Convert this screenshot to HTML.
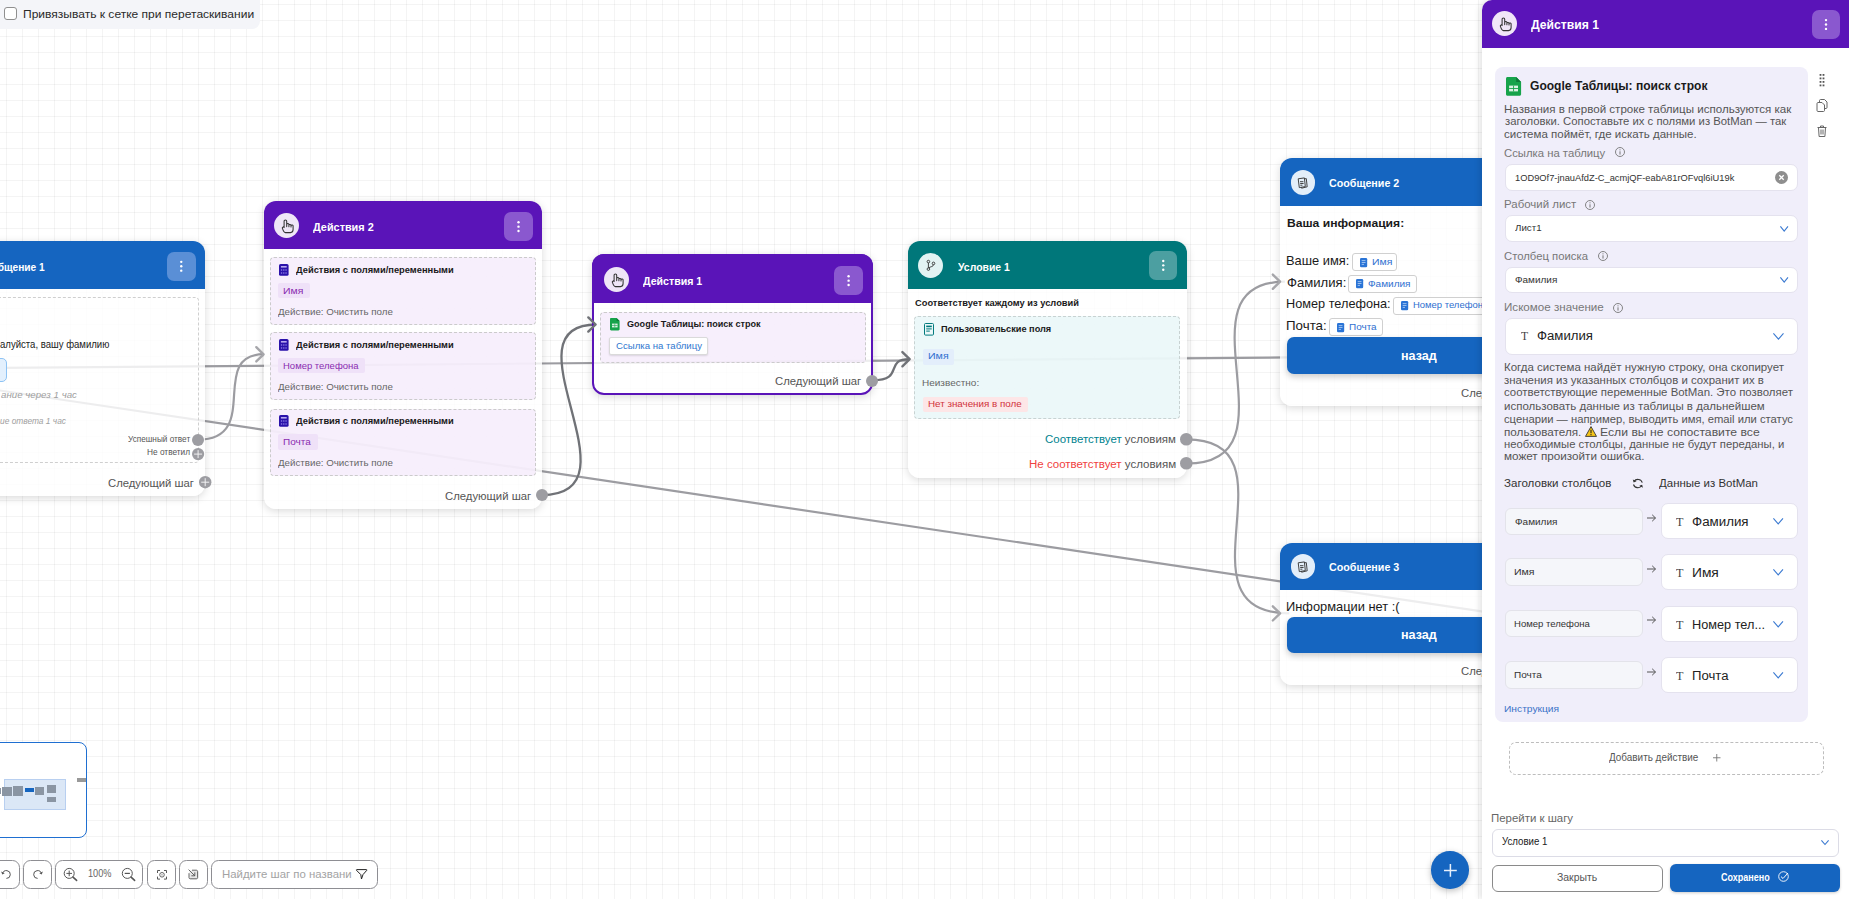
<!DOCTYPE html><html><head><meta charset="utf-8"><style>
html,body{margin:0;padding:0;}
body{width:1849px;height:899px;overflow:hidden;position:relative;font-family:"Liberation Sans", sans-serif;background:#fff;}
.grid{position:absolute;left:0;top:0;width:1849px;height:899px;
background-image:linear-gradient(to right,rgba(0,0,0,0.045) 1px,transparent 1px),linear-gradient(to bottom,rgba(0,0,0,0.045) 1px,transparent 1px);
background-size:16px 16px;background-position:6px 4px;}
.t{position:absolute;white-space:nowrap;line-height:1;}
</style></head><body><div class="grid"></div>
<div style="position:absolute;left:0.00px;top:0.00px;width:259.70px;height:28.50px;box-sizing:border-box;background:#f4f5f9;border-bottom-right-radius:8px;"></div>
<div style="position:absolute;left:4.20px;top:7.10px;width:12.50px;height:12.50px;box-sizing:border-box;border:1.3px solid #8f8f8f;border-radius:3px;background:#fff;"></div>
<div class="t" style="left:22.67px;top:9.00px;font-size:11.3px;color:#2a2a2a;font-weight:normal;transform:scaleX(1.0645);transform-origin:0 0;">Привязывать к сетке при перетаскивании</div>
<svg style="position:absolute;left:0;top:0" width="1849" height="899"><path d="M-100,375.6 L1490,612.6" stroke="#9c9ca1" stroke-width="2.2" fill="none"/><path d="M-100,368.7 L1290,357.4" stroke="#9c9ca1" stroke-width="2.2" fill="none"/><path d="M197.9,439.7 C262.8,439.7 207.1,354.2 264,354.2" stroke="#9c9ca1" stroke-width="2.2" fill="none"/><path d="M541.9,495.1 C644.1999999999999,495.1 500.2,324.5 596.5,324.5" stroke="#707277" stroke-width="2.3" fill="none"/><path d="M872.7,380.3 C905.3000000000001,380.3 883.3000000000001,359.1 909.7,359.1" stroke="#707277" stroke-width="2.3" fill="none"/><path d="M1186.7,439.4 C1301.3,439.4 1170.8,613.4 1289.3,613.4" stroke="#9c9ca1" stroke-width="2.2" fill="none"/><path d="M1186.7,463.5 C1302.9,463.5 1171.5,281.7 1284.9,281.7" stroke="#9c9ca1" stroke-width="2.2" fill="none"/></svg>
<div style="position:absolute;left:-73.00px;top:241.40px;width:278.00px;height:254.30px;box-sizing:border-box;border-radius:12px;background:rgba(255,255,255,0.82);box-shadow:0 2px 8px rgba(0,0,0,0.15);"></div>
<div style="position:absolute;left:-73.00px;top:241.40px;width:278.00px;height:48.10px;box-sizing:border-box;border-radius:12px 12px 0 0;background:#1565c0;"></div>
<div class="t" style="left:-21.76px;top:261.80px;font-size:11px;color:#fff;font-weight:bold;transform:scaleX(0.9231);transform-origin:0 0;">Сообщение 1</div>
<div style="position:absolute;left:167.00px;top:252.00px;width:28.50px;height:28.50px;box-sizing:border-box;border-radius:7px;background:#5a8fd6;"></div>
<svg style="position:absolute;left:167.00px;top:252.00px;overflow:visible;" width="28.50" height="28.50" viewBox="0 0 28.50 28.50"><circle cx="14.25" cy="9.85" r="1.2" fill="#fff"/><circle cx="14.25" cy="14.25" r="1.2" fill="#fff"/><circle cx="14.25" cy="18.65" r="1.2" fill="#fff"/></svg>
<div style="position:absolute;left:-66.00px;top:297.30px;width:264.50px;height:165.50px;box-sizing:border-box;border:1px dashed #cfcfcf;border-radius:4px;"></div>
<div class="t" style="left:-0.16px;top:339.80px;font-size:10px;color:#222;font-weight:normal;transform:scaleX(0.9568);transform-origin:0 0;">алуйста, вашу фамилию</div>
<div style="position:absolute;left:-60.00px;top:357.80px;width:66.80px;height:24.60px;box-sizing:border-box;background:#e3f0fd;border:1px solid #8ec3f4;border-radius:5px;"></div>
<div class="t" style="left:0.75px;top:389.80px;font-size:9.6px;color:#a0a0a0;font-weight:normal;font-style:italic;transform:scaleX(1.0114);transform-origin:0 0;">ание через 1 час</div>
<div class="t" style="left:-0.13px;top:415.70px;font-size:9.6px;color:#a0a0a0;font-weight:normal;font-style:italic;transform:scaleX(0.8718);transform-origin:0 0;">ие ответа 1 час</div>
<div class="t" style="left:127.55px;top:435.80px;font-size:8.2px;color:#555;font-weight:normal;transform:scaleX(1.0028);transform-origin:0 0;">Успешный ответ</div>
<div class="t" style="left:147.07px;top:448.80px;font-size:8.2px;color:#555;font-weight:normal;transform:scaleX(1.0127);transform-origin:0 0;">Не ответил</div>
<svg style="position:absolute;left:191.90px;top:433.70px;overflow:visible;" width="12.00" height="12.00" viewBox="0 0 12.00 12.00"><circle cx="6" cy="6" r="6" fill="#9d9da2"/></svg>
<svg style="position:absolute;left:191.60px;top:448.10px;overflow:visible;" width="12.20" height="12.20" viewBox="0 0 12.20 12.20"><circle cx="6.1" cy="6.1" r="6.1" fill="#9d9da2"/><path d="M2.0999999999999996,6.1H10.1M6.1,2.0999999999999996V10.1" stroke="#f4f4f6" stroke-width="0.95"/></svg>
<div class="t" style="left:108.07px;top:477.90px;font-size:10.6px;color:#555;font-weight:normal;transform:scaleX(1.0654);transform-origin:0 0;">Следующий шаг</div>
<svg style="position:absolute;left:199.30px;top:475.70px;overflow:visible;" width="12.40" height="12.40" viewBox="0 0 12.40 12.40"><circle cx="6.2" cy="6.2" r="6.2" fill="#9d9da2"/><path d="M2.2,6.2H10.2M6.2,2.2V10.2" stroke="#f4f4f6" stroke-width="0.95"/></svg>
<div style="position:absolute;left:263.50px;top:201.20px;width:278.30px;height:307.40px;box-sizing:border-box;border-radius:12px;background:rgba(255,255,255,0.82);box-shadow:0 2px 8px rgba(0,0,0,0.15);"></div>
<div style="position:absolute;left:263.50px;top:201.20px;width:278.30px;height:47.60px;box-sizing:border-box;border-radius:12px 12px 0 0;background:#5a14b8;"></div>
<div style="position:absolute;left:273.60px;top:213.00px;width:25.00px;height:25.00px;box-sizing:border-box;border-radius:50%;background:#efe6f7;"></div>
<svg style="position:absolute;left:281.50px;top:220.10px;overflow:visible;" width="12.00" height="13.00" viewBox="0 0 12.00 13.00"><path d="M2.1,7.2 V1.3 A1.3,1.3 0 0 1 4.7,1.3 V6.6 M4.7,4.4 A1.1,1.1 0 0 1 6.9,4.9 V6.8 M6.9,5.1 A1.1,1.1 0 0 1 9,5.5 V7 M9,5.8 A1.05,1.05 0 0 1 11.1,6.3 V9.6 C11.1,11.5 10,12.6 8.5,12.6 H3.4 C2.5,12.6 2,12.1 1.5,11.1 L0.4,8.4 C0.1,7.7 0.5,7 1.1,6.9 C1.6,6.8 2,7.1 2.1,7.6" fill="none" stroke="#333" stroke-width="1.05" stroke-linecap="round" stroke-linejoin="round"/></svg>
<div class="t" style="left:312.68px;top:222.00px;font-size:11px;color:#fff;font-weight:bold;transform:scaleX(0.9873);transform-origin:0 0;">Действия 2</div>
<div style="position:absolute;left:503.60px;top:211.50px;width:29.00px;height:29.30px;box-sizing:border-box;border-radius:7px;background:#8a58cf;"></div>
<svg style="position:absolute;left:503.60px;top:211.50px;overflow:visible;" width="29.00" height="29.30" viewBox="0 0 29.00 29.30"><circle cx="14.50" cy="10.25" r="1.2" fill="#fff"/><circle cx="14.50" cy="14.65" r="1.2" fill="#fff"/><circle cx="14.50" cy="19.05" r="1.2" fill="#fff"/></svg>
<div style="position:absolute;left:270.00px;top:257.40px;width:265.80px;height:67.80px;box-sizing:border-box;background:rgba(243,232,251,0.7);border:1px dashed #cbcbcb;border-radius:4px;"></div>
<svg style="position:absolute;left:279.30px;top:264.10px;overflow:visible;" width="9.60" height="11.80" viewBox="0 0 9.60 11.80"><rect x="0" y="0" width="9.6" height="11.8" rx="1.6" fill="#2a12aa"/><rect x="1.9" y="2" width="5.8" height="1.6" fill="#b7a8ef"/><g fill="#7f6fdc"><rect x="1.9" y="5.2" width="1.3" height="1.6"/><rect x="1.9" y="8.2" width="1.3" height="1.6"/><rect x="4.15" y="5.2" width="1.3" height="1.6"/><rect x="4.15" y="8.2" width="1.3" height="1.6"/><rect x="6.4" y="5.2" width="1.3" height="1.6"/><rect x="6.4" y="8.2" width="1.3" height="1.6"/></g></svg>
<div class="t" style="left:296.47px;top:265.70px;font-size:9px;color:#1a1a1a;font-weight:bold;transform:scaleX(1.0348);transform-origin:0 0;">Действия с полями/переменными</div>
<div style="position:absolute;left:278.00px;top:282.70px;width:31.50px;height:15.50px;box-sizing:border-box;background:#efe1f8;border-radius:2px;"></div>
<div class="t" style="left:283.36px;top:286.70px;font-size:9.3px;color:#8a2bb0;font-weight:normal;transform:scaleX(1.1224);transform-origin:0 0;">Имя</div>
<div class="t" style="left:277.58px;top:307.00px;font-size:9.8px;color:#666;font-weight:normal;transform:scaleX(0.9939);transform-origin:0 0;">Действие: Очистить поле</div>
<div style="position:absolute;left:270.00px;top:332.40px;width:265.80px;height:67.80px;box-sizing:border-box;background:rgba(243,232,251,0.7);border:1px dashed #cbcbcb;border-radius:4px;"></div>
<svg style="position:absolute;left:279.30px;top:339.10px;overflow:visible;" width="9.60" height="11.80" viewBox="0 0 9.60 11.80"><rect x="0" y="0" width="9.6" height="11.8" rx="1.6" fill="#2a12aa"/><rect x="1.9" y="2" width="5.8" height="1.6" fill="#b7a8ef"/><g fill="#7f6fdc"><rect x="1.9" y="5.2" width="1.3" height="1.6"/><rect x="1.9" y="8.2" width="1.3" height="1.6"/><rect x="4.15" y="5.2" width="1.3" height="1.6"/><rect x="4.15" y="8.2" width="1.3" height="1.6"/><rect x="6.4" y="5.2" width="1.3" height="1.6"/><rect x="6.4" y="8.2" width="1.3" height="1.6"/></g></svg>
<div class="t" style="left:296.47px;top:340.70px;font-size:9px;color:#1a1a1a;font-weight:bold;transform:scaleX(1.0348);transform-origin:0 0;">Действия с полями/переменными</div>
<div style="position:absolute;left:278.00px;top:357.70px;width:87.20px;height:15.50px;box-sizing:border-box;background:#efe1f8;border-radius:2px;"></div>
<div class="t" style="left:283.43px;top:361.70px;font-size:9.3px;color:#8a2bb0;font-weight:normal;transform:scaleX(1.0212);transform-origin:0 0;">Номер телефона</div>
<div class="t" style="left:277.58px;top:382.00px;font-size:9.8px;color:#666;font-weight:normal;transform:scaleX(0.9939);transform-origin:0 0;">Действие: Очистить поле</div>
<div style="position:absolute;left:270.00px;top:408.70px;width:265.80px;height:67.80px;box-sizing:border-box;background:rgba(243,232,251,0.7);border:1px dashed #cbcbcb;border-radius:4px;"></div>
<svg style="position:absolute;left:279.30px;top:415.40px;overflow:visible;" width="9.60" height="11.80" viewBox="0 0 9.60 11.80"><rect x="0" y="0" width="9.6" height="11.8" rx="1.6" fill="#2a12aa"/><rect x="1.9" y="2" width="5.8" height="1.6" fill="#b7a8ef"/><g fill="#7f6fdc"><rect x="1.9" y="5.2" width="1.3" height="1.6"/><rect x="1.9" y="8.2" width="1.3" height="1.6"/><rect x="4.15" y="5.2" width="1.3" height="1.6"/><rect x="4.15" y="8.2" width="1.3" height="1.6"/><rect x="6.4" y="5.2" width="1.3" height="1.6"/><rect x="6.4" y="8.2" width="1.3" height="1.6"/></g></svg>
<div class="t" style="left:296.47px;top:417.00px;font-size:9px;color:#1a1a1a;font-weight:bold;transform:scaleX(1.0348);transform-origin:0 0;">Действия с полями/переменными</div>
<div style="position:absolute;left:278.00px;top:434.00px;width:39.80px;height:15.50px;box-sizing:border-box;background:#efe1f8;border-radius:2px;"></div>
<div class="t" style="left:283.39px;top:438.00px;font-size:9.3px;color:#8a2bb0;font-weight:normal;transform:scaleX(1.0746);transform-origin:0 0;">Почта</div>
<div class="t" style="left:277.58px;top:458.30px;font-size:9.8px;color:#666;font-weight:normal;transform:scaleX(0.9939);transform-origin:0 0;">Действие: Очистить поле</div>
<div class="t" style="left:444.87px;top:490.90px;font-size:10.6px;color:#555;font-weight:normal;transform:scaleX(1.0679);transform-origin:0 0;">Следующий шаг</div>
<svg style="position:absolute;left:535.90px;top:489.10px;overflow:visible;" width="12.00" height="12.00" viewBox="0 0 12.00 12.00"><circle cx="6" cy="6" r="6" fill="#9d9da2"/></svg>
<div style="position:absolute;left:592.30px;top:254.00px;width:280.90px;height:140.70px;box-sizing:border-box;border-radius:12px;background:rgba(255,255,255,0.82);box-shadow:0 2px 8px rgba(0,0,0,0.15);border:2px solid #5a14b8;"></div>
<div style="position:absolute;left:592.30px;top:254.00px;width:280.90px;height:49.40px;box-sizing:border-box;border-radius:12px 12px 0 0;background:#5a14b8;"></div>
<div style="position:absolute;left:603.90px;top:267.20px;width:25.00px;height:25.00px;box-sizing:border-box;border-radius:50%;background:#efe6f7;"></div>
<svg style="position:absolute;left:611.80px;top:274.30px;overflow:visible;" width="12.00" height="13.00" viewBox="0 0 12.00 13.00"><path d="M2.1,7.2 V1.3 A1.3,1.3 0 0 1 4.7,1.3 V6.6 M4.7,4.4 A1.1,1.1 0 0 1 6.9,4.9 V6.8 M6.9,5.1 A1.1,1.1 0 0 1 9,5.5 V7 M9,5.8 A1.05,1.05 0 0 1 11.1,6.3 V9.6 C11.1,11.5 10,12.6 8.5,12.6 H3.4 C2.5,12.6 2,12.1 1.5,11.1 L0.4,8.4 C0.1,7.7 0.5,7 1.1,6.9 C1.6,6.8 2,7.1 2.1,7.6" fill="none" stroke="#333" stroke-width="1.05" stroke-linecap="round" stroke-linejoin="round"/></svg>
<div class="t" style="left:643.18px;top:276.10px;font-size:11px;color:#fff;font-weight:bold;transform:scaleX(0.9639);transform-origin:0 0;">Действия 1</div>
<div style="position:absolute;left:833.90px;top:265.70px;width:29.20px;height:29.30px;box-sizing:border-box;border-radius:7px;background:#8a58cf;"></div>
<svg style="position:absolute;left:833.90px;top:265.70px;overflow:visible;" width="29.20" height="29.30" viewBox="0 0 29.20 29.30"><circle cx="14.60" cy="10.25" r="1.2" fill="#fff"/><circle cx="14.60" cy="14.65" r="1.2" fill="#fff"/><circle cx="14.60" cy="19.05" r="1.2" fill="#fff"/></svg>
<div style="position:absolute;left:600.40px;top:311.50px;width:265.60px;height:51.00px;box-sizing:border-box;background:rgba(243,232,251,0.7);border:1px dashed #cbcbcb;border-radius:4px;"></div>
<svg style="position:absolute;left:609.70px;top:318.30px;overflow:visible;" width="9.60" height="12.40" viewBox="0 0 9.60 12.40"><path d="M0 1.2C0 .5.5 0 1.2 0H6.6L9.6 3V11.2c0 .7-.5 1.2-1.2 1.2H1.2C.5 12.4 0 11.9 0 11.2Z" fill="#16a34a"/><path d="M6.6 0V3H9.6Z" fill="#0d7a38"/><rect x="2" y="5.6" width="5.6" height="3.8" fill="#fff" opacity="0.85"/><path d="M2 7.5H7.6M4.8 5.6V9.4" stroke="#16a34a" stroke-width="0.6"/></svg>
<div class="t" style="left:627.12px;top:319.70px;font-size:9px;color:#1a1a1a;font-weight:bold;transform:scaleX(1.0081);transform-origin:0 0;">Google Таблицы: поиск строк</div>
<div style="position:absolute;left:608.60px;top:337.40px;width:99.50px;height:17.20px;box-sizing:border-box;background:#fff;border:1px solid #dadada;border-radius:2px;box-shadow:0 1px 2px rgba(0,0,0,0.12);"></div>
<div class="t" style="left:615.59px;top:341.00px;font-size:9.4px;color:#2f77d0;font-weight:normal;transform:scaleX(1.0248);transform-origin:0 0;">Ссылка на таблицу</div>
<div class="t" style="left:775.17px;top:375.50px;font-size:10.6px;color:#555;font-weight:normal;transform:scaleX(1.0679);transform-origin:0 0;">Следующий шаг</div>
<svg style="position:absolute;left:866.40px;top:374.70px;overflow:visible;" width="12.00" height="12.00" viewBox="0 0 12.00 12.00"><circle cx="6" cy="6" r="6" fill="#9d9da2"/></svg>
<div style="position:absolute;left:908.30px;top:241.40px;width:279.00px;height:236.30px;box-sizing:border-box;border-radius:12px;background:rgba(255,255,255,0.82);box-shadow:0 2px 8px rgba(0,0,0,0.15);"></div>
<div style="position:absolute;left:908.30px;top:241.40px;width:279.00px;height:48.10px;box-sizing:border-box;border-radius:12px 12px 0 0;background:#00777a;"></div>
<div style="position:absolute;left:918.40px;top:252.70px;width:25.00px;height:25.00px;box-sizing:border-box;border-radius:50%;background:#e2f3f3;"></div>
<svg style="position:absolute;left:923.90px;top:258.20px;overflow:visible;" width="14.00" height="14.00" viewBox="0 0 14.00 14.00"><g fill="none" stroke="#333" stroke-width="0.9"><circle cx="4.4" cy="3.6" r="1.3"/><circle cx="4.4" cy="11.1" r="1.3"/><circle cx="9.5" cy="5.4" r="1.3"/><path d="M4.4 4.9V9.8M9.5 6.7C9.5 8.6 6.5 8.6 4.6 9.9"/></g></svg>
<div class="t" style="left:957.70px;top:261.60px;font-size:11px;color:#fff;font-weight:bold;transform:scaleX(0.9490);transform-origin:0 0;">Условие 1</div>
<div style="position:absolute;left:1148.50px;top:251.30px;width:28.50px;height:28.70px;box-sizing:border-box;border-radius:7px;background:#4c9fa1;"></div>
<svg style="position:absolute;left:1148.50px;top:251.30px;overflow:visible;" width="28.50" height="28.70" viewBox="0 0 28.50 28.70"><circle cx="14.25" cy="9.95" r="1.2" fill="#fff"/><circle cx="14.25" cy="14.35" r="1.2" fill="#fff"/><circle cx="14.25" cy="18.75" r="1.2" fill="#fff"/></svg>
<div class="t" style="left:915.01px;top:298.60px;font-size:9px;color:#1a1a1a;font-weight:bold;transform:scaleX(1.0333);transform-origin:0 0;">Соответствует каждому из условий</div>
<div style="position:absolute;left:914.30px;top:316.00px;width:265.60px;height:103.00px;box-sizing:border-box;background:rgba(228,245,247,0.7);border:1px dashed #c8d2d2;border-radius:4px;"></div>
<svg style="position:absolute;left:923.90px;top:323.00px;overflow:visible;" width="10.00" height="12.60" viewBox="0 0 10.00 12.60"><rect x="0.5" y="0.5" width="9" height="11.6" rx="1" fill="none" stroke="#00797c" stroke-width="1"/><rect x="2.2" y="2.6" width="5.6" height="1.6" fill="#00797c"/><rect x="2.2" y="5.4" width="5.6" height="1" fill="#00797c"/><rect x="2.2" y="7.6" width="3.6" height="1" fill="#00797c"/></svg>
<div class="t" style="left:940.96px;top:324.90px;font-size:9px;color:#1a1a1a;font-weight:bold;transform:scaleX(1.0201);transform-origin:0 0;">Пользовательские поля</div>
<div style="position:absolute;left:922.60px;top:348.50px;width:31.50px;height:16.00px;box-sizing:border-box;background:#e3eefb;border-radius:2px;"></div>
<div class="t" style="left:927.94px;top:351.90px;font-size:9.3px;color:#2f6fd0;font-weight:normal;transform:scaleX(1.1403);transform-origin:0 0;">Имя</div>
<div class="t" style="left:921.99px;top:378.80px;font-size:9.3px;color:#666;font-weight:normal;transform:scaleX(1.0757);transform-origin:0 0;">Неизвестно:</div>
<div style="position:absolute;left:922.60px;top:397.00px;width:105.60px;height:15.00px;box-sizing:border-box;background:#fde6e7;border-radius:2px;"></div>
<div class="t" style="left:928.01px;top:399.70px;font-size:9.3px;color:#d0323a;font-weight:normal;transform:scaleX(1.0541);transform-origin:0 0;">Нет значения в поле</div>
<div class="t" style="left:1044.93px;top:434.80px;font-size:10px;color:#555;font-weight:normal;transform:scaleX(1.1448);transform-origin:0 0;"><span style="color:#00838f">Соответствует</span> условиям</div>
<div class="t" style="left:1028.69px;top:459.60px;font-size:10px;color:#555;font-weight:normal;transform:scaleX(1.1509);transform-origin:0 0;"><span style="color:#f04141">Не соответствует</span> условиям</div>
<svg style="position:absolute;left:1180.40px;top:433.10px;overflow:visible;" width="12.60" height="12.60" viewBox="0 0 12.60 12.60"><circle cx="6.3" cy="6.3" r="6.3" fill="#9d9da2"/></svg>
<svg style="position:absolute;left:1180.40px;top:457.20px;overflow:visible;" width="12.60" height="12.60" viewBox="0 0 12.60 12.60"><circle cx="6.3" cy="6.3" r="6.3" fill="#9d9da2"/></svg>
<div style="position:absolute;left:1280.30px;top:158.30px;width:279.00px;height:248.10px;box-sizing:border-box;border-radius:12px;background:rgba(255,255,255,0.82);box-shadow:0 2px 8px rgba(0,0,0,0.15);"></div>
<div style="position:absolute;left:1280.30px;top:158.30px;width:279.00px;height:47.70px;box-sizing:border-box;border-radius:12px 12px 0 0;background:#1565c0;"></div>
<div style="position:absolute;left:1290.75px;top:170.35px;width:24.50px;height:24.50px;box-sizing:border-box;border-radius:50%;background:#e3eef9;"></div>
<svg style="position:absolute;left:1297.00px;top:176.60px;overflow:visible;" width="12.00" height="12.00" viewBox="0 0 12.00 12.00"><g fill="none" stroke="#3a3a3a" stroke-width="0.95" stroke-linejoin="round"><path d="M3.2 2.4L9.3 1.6L10.2 9.8L4.6 11.2Z" /><path d="M1.2 1.8L7.4 0.9L8.3 9.6L2.3 10.6Z" fill="#e4f0fb"/><path d="M3 4.7H6.4M3.2 6.5H6.6M3.3 8.2H5.4"/></g></svg>
<div class="t" style="left:1329.31px;top:177.70px;font-size:11px;color:#fff;font-weight:bold;transform:scaleX(0.9723);transform-origin:0 0;">Сообщение 2</div>
<div class="t" style="left:1286.62px;top:216.70px;font-size:11.7px;color:#1a1a1a;font-weight:bold;transform:scaleX(1.0376);transform-origin:0 0;">Ваша информация:</div>
<div class="t" style="left:1286.45px;top:255.00px;font-size:12.2px;color:#1a1a1a;font-weight:normal;transform:scaleX(1.0534);transform-origin:0 0;">Ваше имя:</div>
<div style="position:absolute;left:1352.40px;top:253.30px;width:45.10px;height:18.20px;box-sizing:border-box;background:#fff;border:1px solid #d0d0d0;border-radius:3px;"></div>
<svg style="position:absolute;left:1359.80px;top:257.80px;overflow:visible;" width="7.20" height="9.20" viewBox="0 0 7.20 9.20"><rect x="0" y="0" width="7.2" height="9.2" rx="1.3" fill="#2a74d6"/><path d="M1.7 2.6H5.5M1.7 4.5H5.5M1.7 6.4H4" stroke="#b9d3f5" stroke-width="0.8"/></svg>
<div class="t" style="left:1371.73px;top:258.00px;font-size:9px;color:#2f6fd0;font-weight:normal;transform:scaleX(1.1597);transform-origin:0 0;">Имя</div>
<div class="t" style="left:1286.69px;top:276.80px;font-size:12.2px;color:#1a1a1a;font-weight:normal;transform:scaleX(1.0754);transform-origin:0 0;">Фамилия:</div>
<div style="position:absolute;left:1348.40px;top:275.30px;width:68.30px;height:17.30px;box-sizing:border-box;background:#fff;border:1px solid #d0d0d0;border-radius:3px;"></div>
<svg style="position:absolute;left:1355.70px;top:279.35px;overflow:visible;" width="7.20" height="9.20" viewBox="0 0 7.20 9.20"><rect x="0" y="0" width="7.2" height="9.2" rx="1.3" fill="#2a74d6"/><path d="M1.7 2.6H5.5M1.7 4.5H5.5M1.7 6.4H4" stroke="#b9d3f5" stroke-width="0.8"/></svg>
<div class="t" style="left:1368.34px;top:279.80px;font-size:9px;color:#2f6fd0;font-weight:normal;transform:scaleX(1.1125);transform-origin:0 0;">Фамилия</div>
<div class="t" style="left:1286.46px;top:297.90px;font-size:12.2px;color:#1a1a1a;font-weight:normal;transform:scaleX(1.0433);transform-origin:0 0;">Номер телефона:</div>
<div style="position:absolute;left:1393.40px;top:296.60px;width:100.00px;height:18.00px;box-sizing:border-box;background:#fff;border:1px solid #d0d0d0;border-radius:3px;"></div>
<svg style="position:absolute;left:1401.20px;top:301.00px;overflow:visible;" width="7.20" height="9.20" viewBox="0 0 7.20 9.20"><rect x="0" y="0" width="7.2" height="9.2" rx="1.3" fill="#2a74d6"/><path d="M1.7 2.6H5.5M1.7 4.5H5.5M1.7 6.4H4" stroke="#b9d3f5" stroke-width="0.8"/></svg>
<div class="t" style="left:1413.11px;top:300.90px;font-size:9px;color:#2f6fd0;font-weight:normal;transform:scaleX(1.0497);transform-origin:0 0;">Номер телефона</div>
<div class="t" style="left:1286.41px;top:319.80px;font-size:12.2px;color:#1a1a1a;font-weight:normal;transform:scaleX(1.0932);transform-origin:0 0;">Почта:</div>
<div style="position:absolute;left:1329.40px;top:318.40px;width:54.00px;height:17.70px;box-sizing:border-box;background:#fff;border:1px solid #d0d0d0;border-radius:3px;"></div>
<svg style="position:absolute;left:1336.80px;top:322.65px;overflow:visible;" width="7.20" height="9.20" viewBox="0 0 7.20 9.20"><rect x="0" y="0" width="7.2" height="9.2" rx="1.3" fill="#2a74d6"/><path d="M1.7 2.6H5.5M1.7 4.5H5.5M1.7 6.4H4" stroke="#b9d3f5" stroke-width="0.8"/></svg>
<div class="t" style="left:1348.97px;top:322.80px;font-size:9px;color:#2f6fd0;font-weight:normal;transform:scaleX(1.1052);transform-origin:0 0;">Почта</div>
<div style="position:absolute;left:1286.60px;top:337.20px;width:266.60px;height:37.00px;box-sizing:border-box;background:#1565c0;border-radius:7px;box-shadow:0 3px 6px rgba(0,0,0,0.2);"></div>
<div class="t" style="left:1401.42px;top:349.00px;font-size:13.5px;color:#fff;font-weight:bold;transform:scaleX(0.9315);transform-origin:0 0;">назад</div>
<div class="t" style="left:1461.47px;top:387.90px;font-size:10.6px;color:#555;font-weight:normal;transform:scaleX(1.0679);transform-origin:0 0;">Следующий шаг</div>
<div style="position:absolute;left:1280.30px;top:542.50px;width:279.00px;height:142.30px;box-sizing:border-box;border-radius:12px;background:rgba(255,255,255,0.82);box-shadow:0 2px 8px rgba(0,0,0,0.15);"></div>
<div style="position:absolute;left:1280.30px;top:542.50px;width:279.00px;height:47.40px;box-sizing:border-box;border-radius:12px 12px 0 0;background:#1565c0;"></div>
<div style="position:absolute;left:1290.75px;top:554.35px;width:24.50px;height:24.50px;box-sizing:border-box;border-radius:50%;background:#e3eef9;"></div>
<svg style="position:absolute;left:1297.00px;top:560.60px;overflow:visible;" width="12.00" height="12.00" viewBox="0 0 12.00 12.00"><g fill="none" stroke="#3a3a3a" stroke-width="0.95" stroke-linejoin="round"><path d="M3.2 2.4L9.3 1.6L10.2 9.8L4.6 11.2Z" /><path d="M1.2 1.8L7.4 0.9L8.3 9.6L2.3 10.6Z" fill="#e4f0fb"/><path d="M3 4.7H6.4M3.2 6.5H6.6M3.3 8.2H5.4"/></g></svg>
<div class="t" style="left:1329.11px;top:561.80px;font-size:11px;color:#fff;font-weight:bold;transform:scaleX(0.9723);transform-origin:0 0;">Сообщение 3</div>
<div class="t" style="left:1286.15px;top:600.70px;font-size:12.2px;color:#1a1a1a;font-weight:normal;transform:scaleX(1.0539);transform-origin:0 0;">Информации нет :(</div>
<div style="position:absolute;left:1286.60px;top:616.60px;width:266.60px;height:36.40px;box-sizing:border-box;background:#1565c0;border-radius:7px;box-shadow:0 3px 6px rgba(0,0,0,0.2);"></div>
<div class="t" style="left:1401.42px;top:627.70px;font-size:13.5px;color:#fff;font-weight:bold;transform:scaleX(0.9315);transform-origin:0 0;">назад</div>
<div class="t" style="left:1461.47px;top:665.60px;font-size:10.6px;color:#555;font-weight:normal;transform:scaleX(1.0679);transform-origin:0 0;">Следующий шаг</div>
<svg style="position:absolute;left:0;top:0" width="1849" height="899"><path d="M256.3,347.2 L263.6,354.3 L256.3,361.40000000000003" stroke="#a6a6aa" stroke-width="2.4" fill="none" stroke-linecap="round" stroke-linejoin="round"/><path d="M588.3000000000001,317.4 L595.6,324.5 L588.3000000000001,331.6" stroke="#707277" stroke-width="2.4" fill="none" stroke-linecap="round" stroke-linejoin="round"/><path d="M902.4000000000001,352.09999999999997 L909.7,359.2 L902.4000000000001,366.3" stroke="#707277" stroke-width="2.4" fill="none" stroke-linecap="round" stroke-linejoin="round"/><path d="M1272.8,606.3 L1280.1,613.4 L1272.8,620.5" stroke="#a6a6aa" stroke-width="2.4" fill="none" stroke-linecap="round" stroke-linejoin="round"/><path d="M1272.8,274.59999999999997 L1280.1,281.7 L1272.8,288.8" stroke="#a6a6aa" stroke-width="2.4" fill="none" stroke-linecap="round" stroke-linejoin="round"/></svg>
<div style="position:absolute;left:-10.00px;top:742.20px;width:96.70px;height:95.50px;box-sizing:border-box;background:#fff;border:1.6px solid #1f6fd1;border-radius:8px;"></div>
<div style="position:absolute;left:3.70px;top:779.00px;width:62.70px;height:30.70px;box-sizing:border-box;background:#dbe7f6;border:1px solid #b8cff0;"></div>
<div style="position:absolute;left:0.00px;top:787.80px;width:1.10px;height:6.20px;box-sizing:border-box;background:#8a95a3;"></div>
<div style="position:absolute;left:2.00px;top:787.30px;width:9.50px;height:8.30px;box-sizing:border-box;background:#8a95a3;"></div>
<div style="position:absolute;left:13.30px;top:786.00px;width:9.50px;height:10.00px;box-sizing:border-box;background:#8a95a3;"></div>
<div style="position:absolute;left:24.50px;top:787.80px;width:9.10px;height:4.50px;box-sizing:border-box;background:#1565c0;"></div>
<div style="position:absolute;left:35.00px;top:787.30px;width:9.00px;height:7.50px;box-sizing:border-box;background:#8a95a3;"></div>
<div style="position:absolute;left:47.30px;top:784.50px;width:8.90px;height:8.10px;box-sizing:border-box;background:#8a95a3;"></div>
<div style="position:absolute;left:47.30px;top:797.00px;width:8.90px;height:4.80px;box-sizing:border-box;background:#8a95a3;"></div>
<div style="position:absolute;left:76.80px;top:778.00px;width:9.10px;height:4.30px;box-sizing:border-box;background:#999;"></div>
<div style="position:absolute;left:-10.00px;top:860.10px;width:29.60px;height:28.70px;box-sizing:border-box;background:#fff;border:1.1px solid #8e8e93;border-radius:7.5px;"></div>
<div style="position:absolute;left:23.10px;top:860.10px;width:28.50px;height:28.70px;box-sizing:border-box;background:#fff;border:1.1px solid #8e8e93;border-radius:7.5px;"></div>
<div style="position:absolute;left:55.30px;top:860.10px;width:88.20px;height:28.70px;box-sizing:border-box;background:#fff;border:1.1px solid #8e8e93;border-radius:7.5px;"></div>
<div style="position:absolute;left:147.30px;top:860.10px;width:28.40px;height:28.70px;box-sizing:border-box;background:#fff;border:1.1px solid #8e8e93;border-radius:7.5px;"></div>
<div style="position:absolute;left:179.20px;top:860.10px;width:28.40px;height:28.70px;box-sizing:border-box;background:#fff;border:1.1px solid #8e8e93;border-radius:7.5px;"></div>
<div style="position:absolute;left:211.40px;top:860.10px;width:167.00px;height:28.70px;box-sizing:border-box;background:#fff;border:1.1px solid #8e8e93;border-radius:7.5px;"></div>
<div class="t" style="left:87.61px;top:869.00px;font-size:10px;color:#666;font-weight:normal;transform:scaleX(0.9184);transform-origin:0 0;">100%</div>
<div class="t" style="left:221.51px;top:869.20px;font-size:11.2px;color:#a3a3a3;font-weight:normal;transform:scaleX(1.0187);transform-origin:0 0;">Найдите шаг по названи</div>
<svg style="position:absolute;left:0.00px;top:866.00px;overflow:visible;" width="14.00" height="16.00" viewBox="0 0 14.00 16.00"><path d="M2.6 7.7A3.9 3.9 0 1 1 6.4 12.4" fill="none" stroke="#555" stroke-width="1"/><path d="M1.1 5.6L2.3 8.6L4.7 7.2Z" fill="#555"/></svg>
<svg style="position:absolute;left:30.20px;top:866.00px;overflow:visible;" width="14.00" height="16.00" viewBox="0 0 14.00 16.00"><path d="M11.4 7.7A3.9 3.9 0 1 0 7.6 12.4" fill="none" stroke="#555" stroke-width="1"/><path d="M12.9 5.6L11.7 8.6L9.3 7.2Z" fill="#555"/></svg>
<svg style="position:absolute;left:62.00px;top:866.00px;overflow:visible;" width="16.00" height="16.00" viewBox="0 0 16.00 16.00"><circle cx="7.2" cy="7.4" r="5" fill="none" stroke="#555" stroke-width="1"/><path d="M11 11.2L14.6 14.4" stroke="#555" stroke-width="1.6" stroke-linecap="round"/><path d="M4.4 7.4H10M7.2 4.6V10.2" stroke="#555" stroke-width="1"/></svg>
<svg style="position:absolute;left:120.00px;top:866.00px;overflow:visible;" width="16.00" height="16.00" viewBox="0 0 16.00 16.00"><circle cx="7.3" cy="7.4" r="5" fill="none" stroke="#555" stroke-width="1"/><path d="M11.1 11.2L14.6 14.4" stroke="#555" stroke-width="1.6" stroke-linecap="round"/><path d="M4.7 7.4H9.9" stroke="#555" stroke-width="1.2"/></svg>
<svg style="position:absolute;left:156.50px;top:869.70px;overflow:visible;" width="10.00" height="9.60" viewBox="0 0 10.00 9.60"><path d="M0.5 3V0.5H3M7 0.5H9.5V3M9.5 6.6V9.1H7M3 9.1H0.5V6.6" fill="none" stroke="#555" stroke-width="1"/><circle cx="5" cy="4.8" r="2.3" fill="none" stroke="#555" stroke-width="0.9"/><circle cx="5" cy="4.8" r="0.6" fill="#555"/></svg>
<svg style="position:absolute;left:188.40px;top:869.40px;overflow:visible;" width="11.50" height="11.00" viewBox="0 0 11.50 11.00"><rect x="1.4" y="1.4" width="9" height="8.8" rx="1.5" fill="#e6e6e6"/><path d="M1 4.2V8.6C1 9.3 1.5 9.8 2.2 9.8H8.4C9.1 9.8 9.6 9.3 9.6 8.6V2.4C9.6 1.7 9.1 1.2 8.4 1.2H4" fill="none" stroke="#555" stroke-width="0.9"/><path d="M0.6 0.6L6.8 6.8M3.4 6.8H6.8V3.4" fill="none" stroke="#555" stroke-width="0.9"/></svg>
<svg style="position:absolute;left:355.90px;top:869.20px;overflow:visible;" width="11.20" height="10.60" viewBox="0 0 11.20 10.60"><path d="M0.7 0.6H10.5C10.9 0.6 11 1 10.8 1.3L7 5.6L5.5 10L4.8 5.6L0.5 1.3C0.2 1 0.3 0.6 0.7 0.6Z" fill="none" stroke="#222" stroke-width="1" stroke-linejoin="round"/></svg>
<div style="position:absolute;left:1431.00px;top:851.00px;width:37.60px;height:37.60px;box-sizing:border-box;background:#1565c0;border-radius:50%;box-shadow:0 2px 6px rgba(0,0,0,0.25);"></div>
<svg style="position:absolute;left:1443.50px;top:863.50px;overflow:visible;" width="12.80" height="12.80" viewBox="0 0 12.80 12.80"><path d="M6.4 0V12.8M0 6.4H12.8" stroke="#e8f0fb" stroke-width="1.5"/></svg>
<div style="position:absolute;left:1482.00px;top:0.00px;width:367.00px;height:899.00px;box-sizing:border-box;background:#fff;border-top-left-radius:10px;box-shadow:-2px 0 6px rgba(0,0,0,0.12);"></div>
<div style="position:absolute;left:1482.00px;top:0.00px;width:367.00px;height:47.70px;box-sizing:border-box;background:#5a14b8;border-top-left-radius:10px;"></div>
<div style="position:absolute;left:1492.10px;top:11.30px;width:25.00px;height:25.00px;box-sizing:border-box;border-radius:50%;background:#f0e6f8;"></div>
<svg style="position:absolute;left:1500.00px;top:18.40px;overflow:visible;" width="12.00" height="13.00" viewBox="0 0 12.00 13.00"><path d="M2.1,7.2 V1.3 A1.3,1.3 0 0 1 4.7,1.3 V6.6 M4.7,4.4 A1.1,1.1 0 0 1 6.9,4.9 V6.8 M6.9,5.1 A1.1,1.1 0 0 1 9,5.5 V7 M9,5.8 A1.05,1.05 0 0 1 11.1,6.3 V9.6 C11.1,11.5 10,12.6 8.5,12.6 H3.4 C2.5,12.6 2,12.1 1.5,11.1 L0.4,8.4 C0.1,7.7 0.5,7 1.1,6.9 C1.6,6.8 2,7.1 2.1,7.6" fill="none" stroke="#333" stroke-width="1.05" stroke-linecap="round" stroke-linejoin="round"/></svg>
<div class="t" style="left:1531.17px;top:18.80px;font-size:12.1px;color:#fff;font-weight:bold;transform:scaleX(1.0071);transform-origin:0 0;">Действия 1</div>
<div style="position:absolute;left:1812.10px;top:10.00px;width:28.00px;height:29.00px;box-sizing:border-box;border-radius:7px;background:#8a58cf;"></div>
<svg style="position:absolute;left:1812.10px;top:10.00px;overflow:visible;" width="28.00" height="29.00" viewBox="0 0 28.00 29.00"><circle cx="14.00" cy="10.10" r="1.2" fill="#fff"/><circle cx="14.00" cy="14.50" r="1.2" fill="#fff"/><circle cx="14.00" cy="18.90" r="1.2" fill="#fff"/></svg>
<div style="position:absolute;left:1495.40px;top:67.00px;width:312.40px;height:655.30px;box-sizing:border-box;background:#f0eefa;border-radius:8px;"></div>
<svg style="position:absolute;left:1818.50px;top:74.30px;overflow:visible;" width="6.00" height="12.50" viewBox="0 0 6.00 12.50"><rect x="0.6" y="0" width="1.8" height="1.8" fill="#555"/><rect x="0.6" y="3.5" width="1.8" height="1.8" fill="#555"/><rect x="0.6" y="7" width="1.8" height="1.8" fill="#555"/><rect x="0.6" y="10.5" width="1.8" height="1.8" fill="#555"/><rect x="3.6" y="0" width="1.8" height="1.8" fill="#555"/><rect x="3.6" y="3.5" width="1.8" height="1.8" fill="#555"/><rect x="3.6" y="7" width="1.8" height="1.8" fill="#555"/><rect x="3.6" y="10.5" width="1.8" height="1.8" fill="#555"/></svg>
<svg style="position:absolute;left:1815.80px;top:99.30px;overflow:visible;" width="11.50" height="12.50" viewBox="0 0 11.50 12.50"><g fill="none" stroke="#666" stroke-width="1"><path d="M3.5 3.5V1.5c0-.5.4-1 1-1h4l2.5 2.5v5.5c0 .5-.4 1-1 1H8.5"/><path d="M1 4.5c0-.5.4-1 1-1h4l2.5 2.5v5.5c0 .5-.4 1-1 1H2c-.6 0-1-.5-1-1Z"/></g></svg>
<svg style="position:absolute;left:1816.60px;top:125.20px;overflow:visible;" width="10.00" height="12.50" viewBox="0 0 10.00 12.50"><g fill="none" stroke="#666" stroke-width="1"><path d="M0.5 2.5H9.5M3.5 2.5V1h3v1.5M1.5 2.5l.6 9h5.8l.6-9M4 4.5v5M6 4.5v5"/></g></svg>
<svg style="position:absolute;left:1506.30px;top:77.00px;overflow:visible;" width="15.10" height="18.70" viewBox="0 0 15.10 18.70"><path d="M0 1.5C0 .7.7 0 1.5 0H10.2L15.1 4.9V17.2c0 .8-.7 1.5-1.5 1.5H1.5C.7 18.7 0 18 0 17.2Z" fill="#16a34a"/><path d="M10.2 0V4.9H15.1Z" fill="#0d7a38"/><rect x="3.1" y="8.6" width="8.9" height="5.8" fill="#fff" opacity="0.85"/><path d="M3.1 11.5H12M7.55 8.6V14.4" stroke="#16a34a" stroke-width="0.9"/></svg>
<div class="t" style="left:1530.01px;top:80.30px;font-size:12.4px;color:#1a1a1a;font-weight:bold;transform:scaleX(0.9731);transform-origin:0 0;">Google Таблицы: поиск строк</div>
<div class="t" style="left:1503.98px;top:103.70px;font-size:11px;color:#555;font-weight:normal;transform:scaleX(1.0515);transform-origin:0 0;">Названия в первой строке таблицы используются как</div>
<div class="t" style="left:1504.64px;top:115.80px;font-size:11px;color:#555;font-weight:normal;transform:scaleX(1.0293);transform-origin:0 0;">заголовки. Сопоставьте их с полями из BotMan — так</div>
<div class="t" style="left:1504.38px;top:128.60px;font-size:11px;color:#555;font-weight:normal;transform:scaleX(1.0471);transform-origin:0 0;">система поймёт, где искать данные.</div>
<div class="t" style="left:1504.36px;top:147.80px;font-size:10.5px;color:#777;font-weight:normal;transform:scaleX(1.0774);transform-origin:0 0;">Ссылка на таблицу</div>
<svg style="position:absolute;left:1615.00px;top:147.40px;overflow:visible;" width="10.00" height="10.00" viewBox="0 0 10.00 10.00"><circle cx="5" cy="5" r="4.5" fill="none" stroke="#777" stroke-width="0.9"/><path d="M5 4.3V7.6" stroke="#777" stroke-width="1"/><circle cx="5" cy="2.8" r="0.6" fill="#777"/></svg>
<div style="position:absolute;left:1504.70px;top:163.60px;width:293.50px;height:27.70px;box-sizing:border-box;background:#fff;border:1px solid #e4e2ee;border-radius:7px;"></div>
<div class="t" style="left:1514.67px;top:173.10px;font-size:9.5px;color:#333;font-weight:normal;transform:scaleX(0.9797);transform-origin:0 0;">1OD9Of7-jnauAfdZ-C_acmjQF-eabA81rOFvql6iU19k</div>
<svg style="position:absolute;left:1775.00px;top:171.10px;overflow:visible;" width="13.00" height="13.00" viewBox="0 0 13.00 13.00"><circle cx="6.5" cy="6.5" r="6.5" fill="#8e8e8e"/><path d="M4.3 4.3L8.7 8.7M8.7 4.3L4.3 8.7" stroke="#fff" stroke-width="1.3"/></svg>
<div class="t" style="left:1503.75px;top:199.00px;font-size:10.5px;color:#777;font-weight:normal;transform:scaleX(1.0912);transform-origin:0 0;">Рабочий лист</div>
<svg style="position:absolute;left:1585.40px;top:199.50px;overflow:visible;" width="10.00" height="10.00" viewBox="0 0 10.00 10.00"><circle cx="5" cy="5" r="4.5" fill="none" stroke="#777" stroke-width="0.9"/><path d="M5 4.3V7.6" stroke="#777" stroke-width="1"/><circle cx="5" cy="2.8" r="0.6" fill="#777"/></svg>
<div style="position:absolute;left:1504.70px;top:214.70px;width:293.50px;height:27.50px;box-sizing:border-box;background:#fff;border:1px solid #e4e2ee;border-radius:7px;"></div>
<div class="t" style="left:1515.27px;top:222.90px;font-size:9.5px;color:#333;font-weight:normal;transform:scaleX(1.0246);transform-origin:0 0;">Лист1</div>
<svg style="position:absolute;left:1779.50px;top:226.00px;overflow:visible;" width="8.40" height="5.60" viewBox="0 0 8.40 5.60"><path d="M0.4 0.4L4.20 5.10L8.00 0.4" fill="none" stroke="#3b7ad1" stroke-width="1.1"/></svg>
<div class="t" style="left:1504.16px;top:250.70px;font-size:10.5px;color:#777;font-weight:normal;transform:scaleX(1.0761);transform-origin:0 0;">Столбец поиска</div>
<svg style="position:absolute;left:1598.00px;top:251.20px;overflow:visible;" width="10.00" height="10.00" viewBox="0 0 10.00 10.00"><circle cx="5" cy="5" r="4.5" fill="none" stroke="#777" stroke-width="0.9"/><path d="M5 4.3V7.6" stroke="#777" stroke-width="1"/><circle cx="5" cy="2.8" r="0.6" fill="#777"/></svg>
<div style="position:absolute;left:1504.70px;top:266.80px;width:293.50px;height:26.30px;box-sizing:border-box;background:#fff;border:1px solid #e4e2ee;border-radius:7px;"></div>
<div class="t" style="left:1514.88px;top:274.90px;font-size:9.5px;color:#333;font-weight:normal;transform:scaleX(1.0479);transform-origin:0 0;">Фамилия</div>
<svg style="position:absolute;left:1779.50px;top:277.30px;overflow:visible;" width="8.40" height="5.60" viewBox="0 0 8.40 5.60"><path d="M0.4 0.4L4.20 5.10L8.00 0.4" fill="none" stroke="#3b7ad1" stroke-width="1.1"/></svg>
<div class="t" style="left:1503.73px;top:301.60px;font-size:10.5px;color:#777;font-weight:normal;transform:scaleX(1.1060);transform-origin:0 0;">Искомое значение</div>
<svg style="position:absolute;left:1612.60px;top:302.60px;overflow:visible;" width="10.00" height="10.00" viewBox="0 0 10.00 10.00"><circle cx="5" cy="5" r="4.5" fill="none" stroke="#777" stroke-width="0.9"/><path d="M5 4.3V7.6" stroke="#777" stroke-width="1"/><circle cx="5" cy="2.8" r="0.6" fill="#777"/></svg>
<div style="position:absolute;left:1504.70px;top:318.10px;width:293.50px;height:36.50px;box-sizing:border-box;background:#fff;border:1px solid #e4e2ee;border-radius:7px;"></div>
<div class="t" style="left:1521.45px;top:330.80px;font-size:11.5px;color:#444;font-weight:normal;font-family:'Liberation Serif',serif;transform:scaleX(1.0113);transform-origin:0 0;">T</div>
<div class="t" style="left:1537.21px;top:329.80px;font-size:12.5px;color:#222;font-weight:normal;transform:scaleX(1.0544);transform-origin:0 0;">Фамилия</div>
<svg style="position:absolute;left:1772.85px;top:332.70px;overflow:visible;" width="10.90" height="6.60" viewBox="0 0 10.90 6.60"><path d="M0.4 0.4L5.45 6.10L10.50 0.4" fill="none" stroke="#3b7ad1" stroke-width="1.1"/></svg>
<div class="t" style="left:1503.69px;top:362.00px;font-size:11px;color:#555;font-weight:normal;transform:scaleX(1.0452);transform-origin:0 0;">Когда система найдёт нужную строку, она скопирует</div>
<div class="t" style="left:1504.34px;top:374.60px;font-size:11px;color:#555;font-weight:normal;transform:scaleX(1.0385);transform-origin:0 0;">значения из указанных столбцов и сохранит их в</div>
<div class="t" style="left:1504.08px;top:387.40px;font-size:11px;color:#555;font-weight:normal;transform:scaleX(1.0381);transform-origin:0 0;">соответствующие переменные BotMan. Это позволяет</div>
<div class="t" style="left:1503.82px;top:400.50px;font-size:11px;color:#555;font-weight:normal;transform:scaleX(1.0463);transform-origin:0 0;">использовать данные из таблицы в дальнейшем</div>
<div class="t" style="left:1504.09px;top:413.50px;font-size:11px;color:#555;font-weight:normal;transform:scaleX(1.0220);transform-origin:0 0;">сценарии — например, выводить имя, email или статус</div>
<div class="t" style="left:1503.80px;top:426.70px;font-size:11px;color:#555;font-weight:normal;transform:scaleX(1.0634);transform-origin:0 0;">пользователя.</div>
<div class="t" style="left:1503.83px;top:438.70px;font-size:11px;color:#555;font-weight:normal;transform:scaleX(1.0264);transform-origin:0 0;">необходимые столбцы, данные не будут переданы, и</div>
<div class="t" style="left:1503.80px;top:451.10px;font-size:11px;color:#555;font-weight:normal;transform:scaleX(1.0631);transform-origin:0 0;">может произойти ошибка.</div>
<div class="t" style="left:1600.13px;top:426.70px;font-size:11px;color:#555;font-weight:normal;transform:scaleX(1.1082);transform-origin:0 0;">Если вы не сопоставите все</div>
<svg style="position:absolute;left:1585.10px;top:425.80px;overflow:visible;" width="12.00" height="11.00" viewBox="0 0 12.00 11.00"><path d="M6 0.6L11.5 10.4H0.5Z" fill="#f5c518" stroke="#333" stroke-width="0.9" stroke-linejoin="round"/><path d="M6 3.8V7.2" stroke="#222" stroke-width="1.1"/><circle cx="6" cy="8.7" r="0.65" fill="#222"/></svg>
<div class="t" style="left:1504.21px;top:477.80px;font-size:11px;color:#333;font-weight:normal;transform:scaleX(1.0519);transform-origin:0 0;">Заголовки столбцов</div>
<svg style="position:absolute;left:1631.80px;top:478.10px;overflow:visible;" width="11.80" height="11.10" viewBox="0 0 11.80 11.10"><g fill="none" stroke="#333" stroke-width="1.1"><path d="M10.3 4.6A4.6 4.6 0 0 0 2 3.6"/><path d="M1.5 6.5A4.6 4.6 0 0 0 9.8 7.5"/></g><path d="M0.8 1.4L1.7 4.4L4.5 3.3Z" fill="#333"/><path d="M11 9.7L10.1 6.7L7.3 7.8Z" fill="#333"/></svg>
<div class="t" style="left:1659.47px;top:477.80px;font-size:11px;color:#333;font-weight:normal;transform:scaleX(1.0422);transform-origin:0 0;">Данные из BotMan</div>
<div style="position:absolute;left:1504.60px;top:507.60px;width:138.60px;height:27.80px;box-sizing:border-box;background:#f5f6fa;border:1px solid #e3e3ea;border-radius:6px;"></div>
<div class="t" style="left:1514.67px;top:516.60px;font-size:9.5px;color:#333;font-weight:normal;transform:scaleX(1.0505);transform-origin:0 0;">Фамилия</div>
<svg style="position:absolute;left:1647.00px;top:514.20px;overflow:visible;" width="9.50" height="8.00" viewBox="0 0 9.50 8.00"><path d="M0 4H8.5M5.2 0.8L8.5 4L5.2 7.2" fill="none" stroke="#555" stroke-width="1"/></svg>
<div style="position:absolute;left:1660.80px;top:502.60px;width:137.60px;height:36.60px;box-sizing:border-box;background:#fff;border:1px solid #e4e2ee;border-radius:7px;"></div>
<div class="t" style="left:1675.94px;top:516.80px;font-size:11.5px;color:#444;font-weight:normal;font-family:'Liberation Serif',serif;transform:scaleX(1.0566);transform-origin:0 0;">T</div>
<div class="t" style="left:1692.00px;top:515.80px;font-size:12.5px;color:#222;font-weight:normal;transform:scaleX(1.0660);transform-origin:0 0;">Фамилия</div>
<svg style="position:absolute;left:1773.00px;top:517.90px;overflow:visible;" width="10.40" height="6.40" viewBox="0 0 10.40 6.40"><path d="M0.4 0.4L5.20 5.90L10.00 0.4" fill="none" stroke="#3b7ad1" stroke-width="1.1"/></svg>
<div style="position:absolute;left:1504.60px;top:558.00px;width:138.60px;height:27.80px;box-sizing:border-box;background:#f5f6fa;border:1px solid #e3e3ea;border-radius:6px;"></div>
<div class="t" style="left:1514.37px;top:567.00px;font-size:9.5px;color:#333;font-weight:normal;transform:scaleX(1.1095);transform-origin:0 0;">Имя</div>
<svg style="position:absolute;left:1647.00px;top:564.60px;overflow:visible;" width="9.50" height="8.00" viewBox="0 0 9.50 8.00"><path d="M0 4H8.5M5.2 0.8L8.5 4L5.2 7.2" fill="none" stroke="#555" stroke-width="1"/></svg>
<div style="position:absolute;left:1660.80px;top:553.50px;width:137.60px;height:36.60px;box-sizing:border-box;background:#fff;border:1px solid #e4e2ee;border-radius:7px;"></div>
<div class="t" style="left:1675.94px;top:567.70px;font-size:11.5px;color:#444;font-weight:normal;font-family:'Liberation Serif',serif;transform:scaleX(1.0566);transform-origin:0 0;">T</div>
<div class="t" style="left:1691.70px;top:566.70px;font-size:12.5px;color:#222;font-weight:normal;transform:scaleX(1.1022);transform-origin:0 0;">Имя</div>
<svg style="position:absolute;left:1773.00px;top:568.80px;overflow:visible;" width="10.40" height="6.40" viewBox="0 0 10.40 6.40"><path d="M0.4 0.4L5.20 5.90L10.00 0.4" fill="none" stroke="#3b7ad1" stroke-width="1.1"/></svg>
<div style="position:absolute;left:1504.60px;top:609.60px;width:138.60px;height:27.80px;box-sizing:border-box;background:#f5f6fa;border:1px solid #e3e3ea;border-radius:6px;"></div>
<div class="t" style="left:1514.45px;top:618.60px;font-size:9.5px;color:#333;font-weight:normal;transform:scaleX(1.0030);transform-origin:0 0;">Номер телефона</div>
<svg style="position:absolute;left:1647.00px;top:616.20px;overflow:visible;" width="9.50" height="8.00" viewBox="0 0 9.50 8.00"><path d="M0 4H8.5M5.2 0.8L8.5 4L5.2 7.2" fill="none" stroke="#555" stroke-width="1"/></svg>
<div style="position:absolute;left:1660.80px;top:605.60px;width:137.60px;height:36.60px;box-sizing:border-box;background:#fff;border:1px solid #e4e2ee;border-radius:7px;"></div>
<div class="t" style="left:1675.94px;top:619.80px;font-size:11.5px;color:#444;font-weight:normal;font-family:'Liberation Serif',serif;transform:scaleX(1.0566);transform-origin:0 0;">T</div>
<div class="t" style="left:1691.78px;top:618.80px;font-size:12.5px;color:#222;font-weight:normal;transform:scaleX(1.0169);transform-origin:0 0;">Номер тел...</div>
<svg style="position:absolute;left:1773.00px;top:620.90px;overflow:visible;" width="10.40" height="6.40" viewBox="0 0 10.40 6.40"><path d="M0.4 0.4L5.20 5.90L10.00 0.4" fill="none" stroke="#3b7ad1" stroke-width="1.1"/></svg>
<div style="position:absolute;left:1504.60px;top:661.40px;width:138.60px;height:27.80px;box-sizing:border-box;background:#f5f6fa;border:1px solid #e3e3ea;border-radius:6px;"></div>
<div class="t" style="left:1514.41px;top:670.40px;font-size:9.5px;color:#333;font-weight:normal;transform:scaleX(1.0537);transform-origin:0 0;">Почта</div>
<svg style="position:absolute;left:1647.00px;top:668.00px;overflow:visible;" width="9.50" height="8.00" viewBox="0 0 9.50 8.00"><path d="M0 4H8.5M5.2 0.8L8.5 4L5.2 7.2" fill="none" stroke="#555" stroke-width="1"/></svg>
<div style="position:absolute;left:1660.80px;top:656.90px;width:137.60px;height:36.60px;box-sizing:border-box;background:#fff;border:1px solid #e4e2ee;border-radius:7px;"></div>
<div class="t" style="left:1675.94px;top:671.10px;font-size:11.5px;color:#444;font-weight:normal;font-family:'Liberation Serif',serif;transform:scaleX(1.0566);transform-origin:0 0;">T</div>
<div class="t" style="left:1691.75px;top:670.10px;font-size:12.5px;color:#222;font-weight:normal;transform:scaleX(1.0519);transform-origin:0 0;">Почта</div>
<svg style="position:absolute;left:1773.00px;top:672.20px;overflow:visible;" width="10.40" height="6.40" viewBox="0 0 10.40 6.40"><path d="M0.4 0.4L5.20 5.90L10.00 0.4" fill="none" stroke="#3b7ad1" stroke-width="1.1"/></svg>
<div class="t" style="left:1503.79px;top:703.60px;font-size:9.5px;color:#3b73c8;font-weight:normal;transform:scaleX(1.0774);transform-origin:0 0;">Инструкция</div>
<div style="position:absolute;left:1508.50px;top:742.30px;width:315.30px;height:32.30px;box-sizing:border-box;border:1px dashed #bdbdbd;border-radius:7px;"></div>
<div class="t" style="left:1608.68px;top:753.30px;font-size:10px;color:#555;font-weight:normal;transform:scaleX(0.9924);transform-origin:0 0;">Добавить действие</div>
<svg style="position:absolute;left:1713.00px;top:754.30px;overflow:visible;" width="7.50" height="7.50" viewBox="0 0 7.50 7.50"><path d="M3.75 0V7.5M0 3.75H7.5" stroke="#777" stroke-width="0.9"/></svg>
<div class="t" style="left:1490.87px;top:813.00px;font-size:10.8px;color:#666;font-weight:normal;transform:scaleX(1.0584);transform-origin:0 0;">Перейти к шагу</div>
<div style="position:absolute;left:1492.30px;top:828.50px;width:347.20px;height:28.00px;box-sizing:border-box;background:#fff;border:1px solid #dcdce6;border-radius:6px;"></div>
<div class="t" style="left:1502.46px;top:837.10px;font-size:10px;color:#222;font-weight:normal;transform:scaleX(0.9665);transform-origin:0 0;">Условие 1</div>
<svg style="position:absolute;left:1820.50px;top:840.10px;overflow:visible;" width="8.00" height="5.00" viewBox="0 0 8.00 5.00"><path d="M0.4 0.4L4.00 4.50L7.60 0.4" fill="none" stroke="#3b7ad1" stroke-width="1.1"/></svg>
<div style="position:absolute;left:1492.30px;top:864.50px;width:170.40px;height:27.20px;box-sizing:border-box;background:#fff;border:1px solid #8a8a8a;border-radius:6px;"></div>
<div class="t" style="left:1557.41px;top:873.00px;font-size:10px;color:#555;font-weight:normal;transform:scaleX(1.0437);transform-origin:0 0;">Закрыть</div>
<div style="position:absolute;left:1670.00px;top:864.00px;width:170.00px;height:27.70px;box-sizing:border-box;background:#1565c0;border-radius:6px;box-shadow:0 1px 3px rgba(0,0,0,0.2);"></div>
<div class="t" style="left:1721.46px;top:873.00px;font-size:10px;color:#fff;font-weight:bold;transform:scaleX(0.9014);transform-origin:0 0;">Сохранено</div>
<svg style="position:absolute;left:1777.60px;top:870.50px;overflow:visible;" width="11.00" height="11.00" viewBox="0 0 11.00 11.00"><circle cx="5.5" cy="5.5" r="4.8" fill="none" stroke="#fff" stroke-width="0.9"/><path d="M3 5.6L5 7.5L10 2" fill="none" stroke="#fff" stroke-width="1"/></svg>
</body></html>
